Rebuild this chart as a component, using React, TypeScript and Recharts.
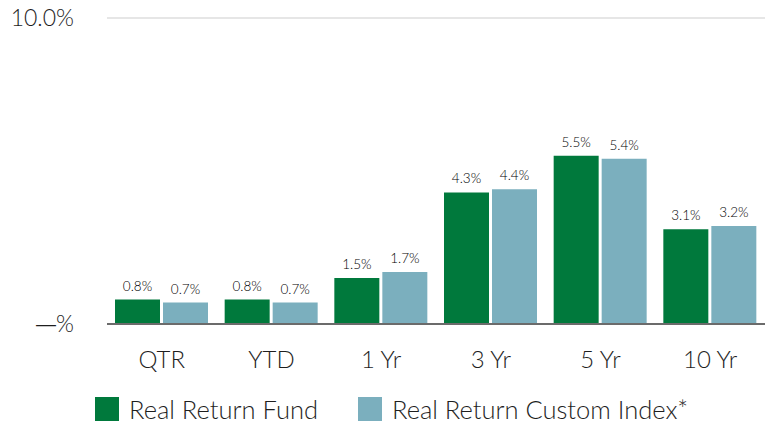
import React from 'react';
import { BarChart, Bar, XAxis, YAxis, ReferenceLine, Legend, LabelList } from 'recharts';

const periods = ['QTR', 'YTD', '1 Yr', '3 Yr', '5 Yr', '10 Yr'];
const fundReturns = [0.8, 0.8, 1.5, 4.3, 5.5, 3.1];
const indexReturns = [0.7, 0.7, 1.7, 4.4, 5.4, 3.2];
const yTicks = [0, 10];

const FUND = 'Real Return Fund';
const INDEX = 'Real Return Custom Index*';
const GREEN = '#00793c';
const BLUE = '#7bafbe';
const FONT = 'Lato, "Open Sans", sans-serif';
const INK = '#1e1e1e';

const data = periods.map((period, i) => ({
  period,
  fund: fundReturns[i],
  index: indexReturns[i],
}));

const YTick = (props: any) => {
  const { y, payload } = props;
  const zero = payload.value === 0;
  return (
    <text x={74} y={y} dy={2} dominantBaseline="middle" textAnchor="end" fontSize={23} fontWeight={300} fill={INK} fontFamily={FONT}>
      {zero ? (
        <>
          <tspan style={{ fontFamily: 'Liberation Sans', fontWeight: 400, fontSize: 20 }}>—</tspan>
          <tspan>%</tspan>
        </>
      ) : (
        `${payload.value.toFixed(1)}%`
      )}
    </text>
  );
};

const XTick = (props: any) => {
  const { x, y, payload } = props;
  return (
    <text x={x} y={y + 30} dominantBaseline="middle" textAnchor="middle" fontSize={24} fontWeight={300} fill={INK} fontFamily={FONT}>
      {payload.value}
    </text>
  );
};

const LegendBox = () => (
  <div style={{ display: 'flex', alignItems: 'center', fontFamily: FONT, fontWeight: 300, fontSize: 25.5, color: INK, paddingLeft: 95, paddingTop: 20 }}>
    <span style={{ width: 24, height: 24, background: GREEN, display: 'inline-block', marginRight: 10 }} />
    <span style={{ marginRight: 40 }}>{FUND}</span>
    <span style={{ width: 24, height: 24, background: BLUE, display: 'inline-block', marginRight: 10 }} />
    <span>{INDEX}</span>
  </div>
);

const fmt = (v: any) => `${Number(v).toFixed(1)}%`;

export default function App() {
  return (
    <div style={{ position: 'absolute', left: 0, top: 0 }}>
      <BarChart
        width={770}
        height={423}
        data={data}
        margin={{ top: 18, right: 5, left: 0, bottom: 0 }}
        barCategoryGap={8}
        barGap={3}
      >
        <YAxis domain={[0, 10]} ticks={yTicks} width={107} axisLine={false} tickLine={false} tick={<YTick />} />
        <XAxis dataKey="period" height={50} tickLine={false} axisLine={{ stroke: '#6b6b6b', strokeWidth: 2 }} tick={<XTick />} />
        <ReferenceLine y={10} stroke="#e6e6e6" strokeWidth={2} />
        <Legend verticalAlign="bottom" align="left" height={49} content={<LegendBox />} />
        <Bar dataKey="fund" name={FUND} fill={GREEN} isAnimationActive={false}>
          <LabelList dataKey="fund" position="top" offset={9} formatter={fmt} fontSize={13.5} fontWeight={300} fill="#000" fontFamily={FONT} />
        </Bar>
        <Bar dataKey="index" name={INDEX} fill={BLUE} isAnimationActive={false}>
          <LabelList dataKey="index" position="top" offset={9} formatter={fmt} fontSize={13.5} fontWeight={300} fill="#000" fontFamily={FONT} />
        </Bar>
      </BarChart>
    </div>
  );
}
